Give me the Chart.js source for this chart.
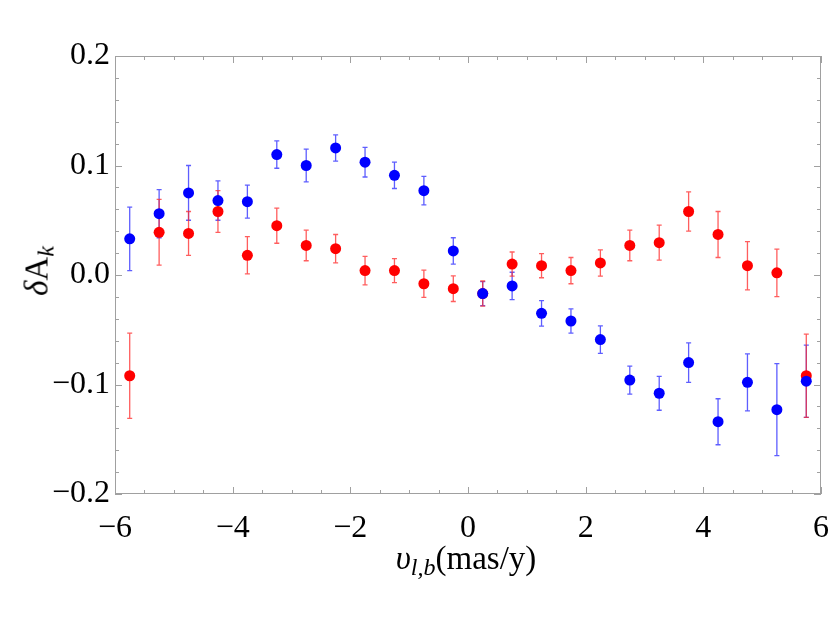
<!DOCTYPE html>
<html>
<head>
<meta charset="utf-8">
<script src="https://cdn.jsdelivr.net/npm/chart.js@4.4.1/dist/chart.umd.min.js"></script>
<style>
  html, body { margin: 0; padding: 0; background: #fff; }
  #wrap { position: relative; width: 830px; height: 623px; font-family: "Liberation Serif", "DejaVu Serif", serif; }
  #chart { position: absolute; left: 0; top: 0; }
  .axis-title { position: absolute; font-size: 33px; color: #000; white-space: nowrap; line-height: 1; }
  .axis-title sub { font-size: 24px; vertical-align: -6px; line-height: 0; }
  #x-title { left: 466px; top: 542px; transform: translateX(-50%); }
  #y-title { left: 37px; top: 271px; transform: translate(-50%, -50%) rotate(-90deg); }
</style>
</head>
<body>
<div id="wrap">
  <canvas id="chart" width="830" height="623"></canvas>
  <div class="axis-title" id="x-title"><i>υ</i><sub><i>l,b</i></sub>(mas/y)</div>
  <div class="axis-title" id="y-title"><i>δ</i>A<sub><i>k</i></sub></div>
</div>
<script>
// --- Data ---
const xValues = [-5.75, -5.25, -4.75, -4.25, -3.75, -3.25, -2.75, -2.25, -1.75, -1.25, -0.75, -0.25,
                 0.25, 0.75, 1.25, 1.75, 2.25, 2.75, 3.25, 3.75, 4.25, 4.75, 5.25, 5.75];

const blueValues = [0.033, 0.056, 0.075, 0.068, 0.067, 0.110, 0.100, 0.116, 0.103, 0.091, 0.077, 0.022,
                    -0.017, -0.010, -0.035, -0.042, -0.059, -0.096, -0.108, -0.080, -0.134, -0.098, -0.123, -0.097];
const blueErrors = [0.029, 0.022, 0.025, 0.018, 0.015, 0.0125, 0.015, 0.012, 0.0135, 0.012, 0.013, 0.012,
                    0.011, 0.0125, 0.0116, 0.011, 0.0125, 0.0127, 0.0155, 0.018, 0.021, 0.026, 0.042, 0.033];

const redValues = [-0.092, 0.039, 0.038, 0.058, 0.018, 0.045, 0.027, 0.024, 0.004, 0.004, -0.008, -0.0125,
                   -0.017, 0.010, 0.0085, 0.004, 0.011, 0.027, 0.0295, 0.058, 0.037, 0.0085, 0.002, -0.092];
const redErrors = [0.039, 0.030, 0.020, 0.019, 0.017, 0.016, 0.014, 0.013, 0.013, 0.011, 0.0125, 0.0117,
                   0.0115, 0.011, 0.011, 0.012, 0.012, 0.014, 0.016, 0.018, 0.021, 0.022, 0.0217, 0.038];

const xTicks = [-6, -4, -2, 0, 2, 4, 6];
const yTicks = [-0.2, -0.1, 0.0, 0.1, 0.2];

const FONT = { family: '"Liberation Serif", "DejaVu Serif", serif', size: 32 };
const FRAME_COLOR = '#a0a0a0';

function minus(s) { return s.replace('-', '\u2212'); }

const toPoints = (ys) => xValues.map((x, i) => ({ x, y: ys[i] }));

// --- Error bars, drawn under the dots ---
const errorBars = {
  id: 'errorBars',
  beforeDatasetsDraw(chart) {
    const { ctx } = chart;
    const yScale = chart.scales.y;
    chart.data.datasets.forEach((ds, di) => {
      const meta = chart.getDatasetMeta(di);
      ctx.save();
      ctx.strokeStyle = ds.errorColor;
      ctx.lineWidth = 1.3;
      meta.data.forEach((pt, i) => {
        const v = ds.data[i].y;
        const e = ds.errors[i];
        const top = yScale.getPixelForValue(v + e);
        const bot = yScale.getPixelForValue(v - e);
        ctx.beginPath();
        ctx.moveTo(pt.x, top); ctx.lineTo(pt.x, bot);
        ctx.moveTo(pt.x - 2.5, top); ctx.lineTo(pt.x + 2.5, top);
        ctx.moveTo(pt.x - 2.5, bot); ctx.lineTo(pt.x + 2.5, bot);
        ctx.stroke();
      });
      ctx.restore();
    });
  },
};

// --- Mathematica style frame with inner ticks ---
const frame = {
  id: 'frame',
  afterDraw(chart) {
    const { ctx, chartArea: a } = chart;
    const xs = chart.scales.x, ys = chart.scales.y;
    ctx.save();
    ctx.strokeStyle = FRAME_COLOR;
    ctx.lineWidth = 1;
    ctx.strokeRect(a.left + 0.5, a.top + 0.5, a.right - a.left - 1, a.bottom - a.top - 1);
    ctx.beginPath();
    for (let k = 0; k <= 24; k++) {
      const v = -6 + k * 0.5;
      const len = k % 4 === 0 ? 7 : 4;
      const px = Math.round(xs.getPixelForValue(v)) + 0.5;
      ctx.moveTo(px, a.bottom); ctx.lineTo(px, a.bottom - len);
      ctx.moveTo(px, a.top); ctx.lineTo(px, a.top + len);
    }
    for (let k = 0; k <= 20; k++) {
      const v = -0.2 + k * 0.02;
      const len = k % 5 === 0 ? 7 : 4;
      const py = Math.round(ys.getPixelForValue(v)) + 0.5;
      ctx.moveTo(a.left, py); ctx.lineTo(a.left + len, py);
      ctx.moveTo(a.right, py); ctx.lineTo(a.right - len, py);
    }
    ctx.stroke();
    ctx.restore();
  },
};

const chart = new Chart(document.getElementById('chart'), {
  type: 'scatter',
  data: {
    datasets: [
      {
        label: 'blue',
        data: toPoints(blueValues),
        errors: blueErrors,
        errorColor: 'rgba(40,40,255,0.75)',
        backgroundColor: '#0000ff',
        borderColor: '#0000ff',
        pointRadius: 5.5,
        borderWidth: 0,
      },
      {
        label: 'red',
        data: toPoints(redValues),
        errors: redErrors,
        errorColor: 'rgba(255,40,40,0.75)',
        backgroundColor: '#ff0000',
        borderColor: '#ff0000',
        pointRadius: 5.5,
        borderWidth: 0,
      },
    ],
  },
  options: {
    responsive: false,
    animation: false,
    layout: { padding: { top: 56, right: 9, left: 0, bottom: 0 } },
    plugins: { legend: { display: false }, tooltip: { enabled: false } },
    scales: {
      x: {
        type: 'linear', min: -6, max: 6,
        afterBuildTicks: (s) => { s.ticks = xTicks.map((value) => ({ value })); },
        afterFit: (s) => { s.height = 129; s.paddingLeft = 0; s.paddingRight = 0; },
        ticks: { font: FONT, color: '#000', padding: 15, maxRotation: 0, autoSkip: false,
                 callback: (v) => minus(String(v)) },
        grid: { display: false, drawTicks: false },
        border: { display: false },
      },
      y: {
        type: 'linear', min: -0.2, max: 0.2,
        afterBuildTicks: (s) => { s.ticks = yTicks.map((value) => ({ value })); },
        afterFit: (s) => { s.width = 115; s.paddingTop = 0; s.paddingBottom = 0; },
        ticks: { font: FONT, color: '#000', padding: 5, autoSkip: false,
                 callback: (v) => minus((Math.round(v * 10) / 10).toFixed(1)) },
        grid: { display: false, drawTicks: false },
        border: { display: false },
      },
    },
  },
  plugins: [errorBars, frame],
});
</script>
</body>
</html>
